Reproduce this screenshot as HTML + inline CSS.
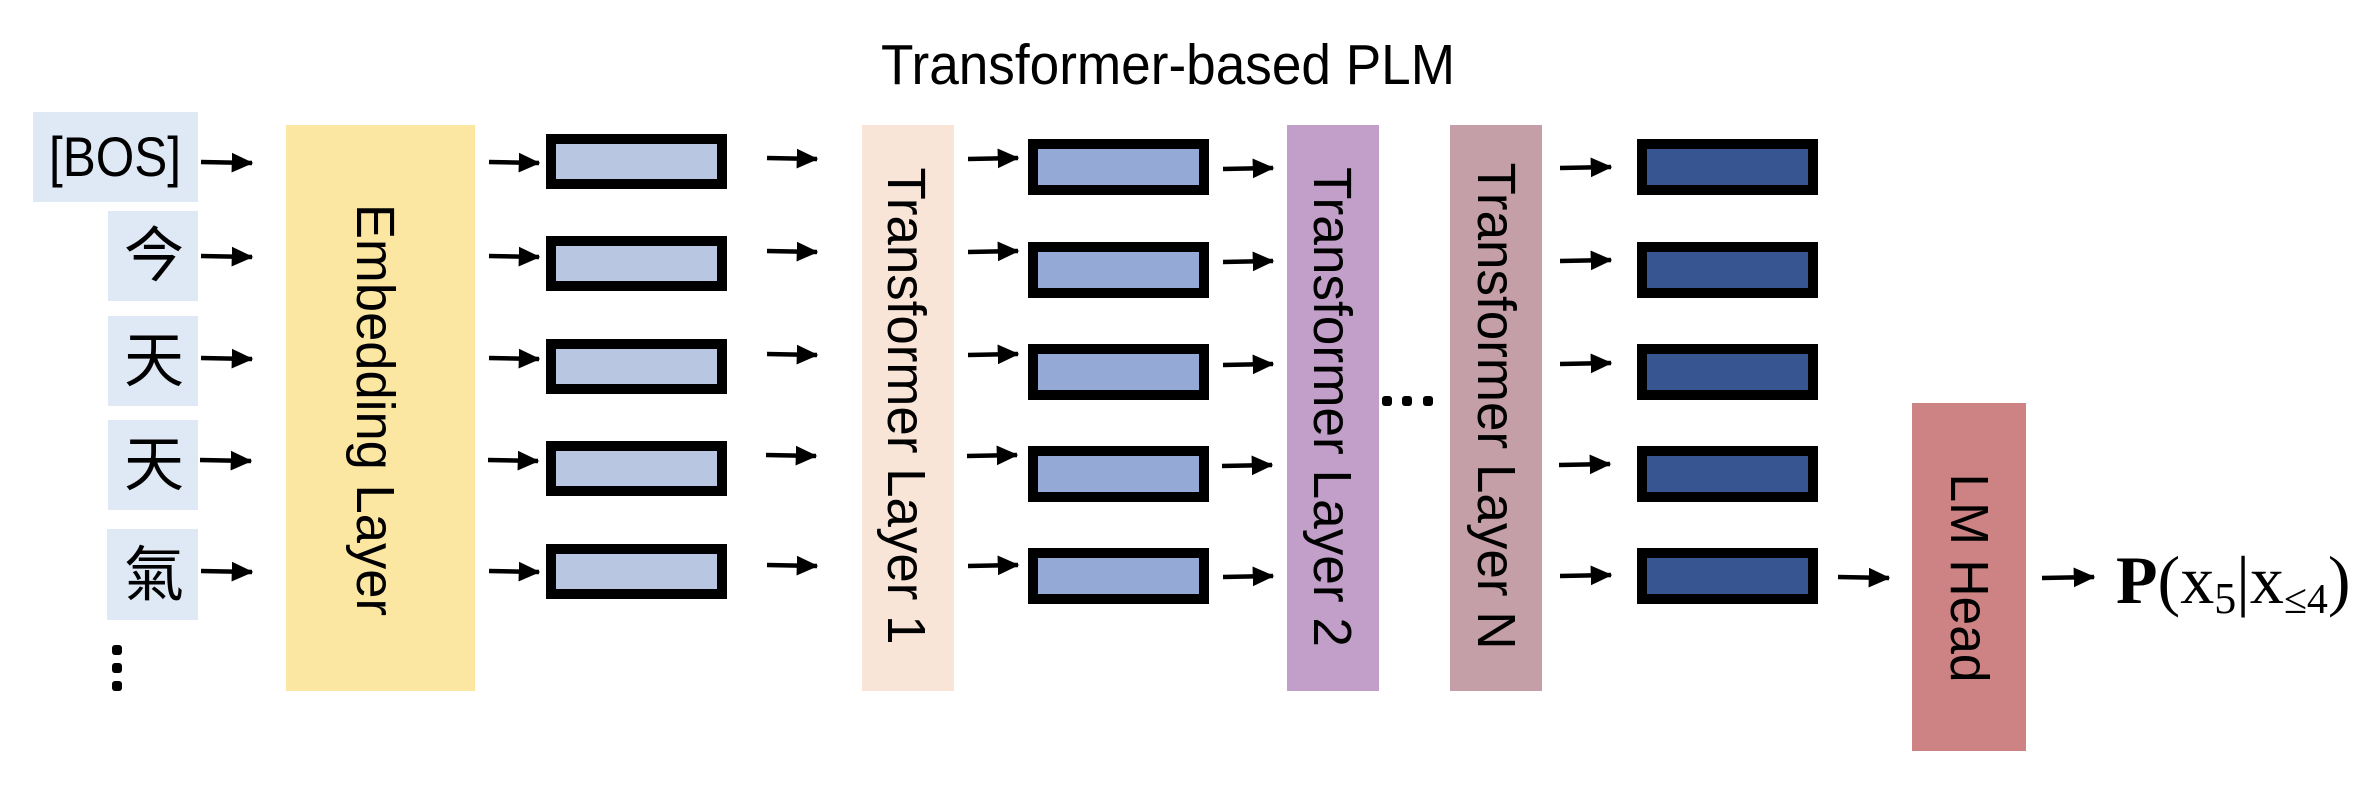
<!DOCTYPE html>
<html><head><meta charset="utf-8"><style>
html,body{margin:0;padding:0;background:#fff;}
svg{display:block;}
text{font-family:"Liberation Sans","Noto Sans CJK TC",sans-serif;fill:#000;}
</style></head><body>
<svg width="2364" height="786" viewBox="0 0 2364 786" xmlns="http://www.w3.org/2000/svg">
<defs>
<marker id="ah" markerWidth="5" markerHeight="5" refX="4.5" refY="2.5" orient="auto" markerUnits="strokeWidth">
<path d="M0,0.3 L4.8,2.5 L0,4.7 Z" fill="#000"/>
</marker>
</defs>
<text x="881" y="84" font-size="57" textLength="574" lengthAdjust="spacingAndGlyphs">Transformer-based PLM</text>

<!-- tokens -->
<rect x="33" y="112" width="165" height="90" fill="#dfe9f5"/>
<rect x="108" y="211" width="90" height="90" fill="#dfe9f5"/>
<rect x="108" y="316" width="90" height="90" fill="#dfe9f5"/>
<rect x="108" y="420" width="90" height="90" fill="#dfe9f5"/>
<rect x="107" y="529" width="91" height="91" fill="#dfe9f5"/>
<text x="49" y="176" font-size="56" textLength="132" lengthAdjust="spacingAndGlyphs">[BOS]</text>
<text x="154" y="256" font-size="60" text-anchor="middle" dominant-baseline="central">今</text>
<text x="154" y="361" font-size="60" text-anchor="middle" dominant-baseline="central">天</text>
<text x="154" y="465" font-size="60" text-anchor="middle" dominant-baseline="central">天</text>
<text x="154" y="575" font-size="60" text-anchor="middle" dominant-baseline="central">氣</text>
<rect x="112" y="645" width="10" height="10" rx="3"/>
<rect x="112" y="663" width="10" height="10" rx="3"/>
<rect x="112" y="681" width="10" height="10" rx="3"/>

<!-- layers -->
<rect x="286" y="125" width="189" height="566" fill="#fbe6a2"/>
<rect x="862" y="125" width="92" height="566" fill="#f8e5d8"/>
<rect x="1287" y="125" width="92" height="566" fill="#c19fc8"/>
<rect x="1450" y="125" width="92" height="566" fill="#c59fa8"/>
<rect x="1912" y="403" width="114" height="348" fill="#cd8383"/>
<text transform="translate(375,410) rotate(90)" font-size="54" text-anchor="middle" dominant-baseline="central" textLength="412" lengthAdjust="spacingAndGlyphs">Embedding Layer</text>
<text transform="translate(906,406) rotate(90)" font-size="54" text-anchor="middle" dominant-baseline="central" textLength="477" lengthAdjust="spacingAndGlyphs">Transformer Layer 1</text>
<text transform="translate(1332,407) rotate(90)" font-size="54" text-anchor="middle" dominant-baseline="central" textLength="480" lengthAdjust="spacingAndGlyphs">Transformer Layer 2</text>
<text transform="translate(1496,406) rotate(90)" font-size="54" text-anchor="middle" dominant-baseline="central" textLength="487" lengthAdjust="spacingAndGlyphs">Transformer Layer N</text>
<text transform="translate(1969,578) rotate(90)" font-size="54" text-anchor="middle" dominant-baseline="central" textLength="209" lengthAdjust="spacingAndGlyphs">LM Head</text>

<rect x="1382" y="396" width="10" height="10" rx="3"/>
<rect x="1402" y="396" width="10" height="10" rx="3"/>
<rect x="1423" y="396" width="10" height="10" rx="3"/>

<!-- vector boxes -->
<g stroke="#000" stroke-width="10">
<g fill="#b8c6e2">
<rect x="551" y="139" width="171" height="45"/>
<rect x="551" y="241" width="171" height="45"/>
<rect x="551" y="344" width="171" height="45"/>
<rect x="551" y="446" width="171" height="45"/>
<rect x="551" y="549" width="171" height="45"/>
</g>
<g fill="#95a9d6">
<rect x="1033" y="144" width="171" height="46"/>
<rect x="1033" y="247" width="171" height="46"/>
<rect x="1033" y="349" width="171" height="46"/>
<rect x="1033" y="451" width="171" height="46"/>
<rect x="1033" y="553" width="171" height="46"/>
</g>
<g fill="#375591">
<rect x="1642" y="144" width="171" height="46"/>
<rect x="1642" y="247" width="171" height="46"/>
<rect x="1642" y="349" width="171" height="46"/>
<rect x="1642" y="451" width="171" height="46"/>
<rect x="1642" y="553" width="171" height="46"/>
</g>
</g>

<!-- arrows -->
<g stroke="#000" stroke-width="4.5" marker-end="url(#ah)">
<line x1="201" y1="162" x2="252" y2="163"/>
<line x1="201" y1="256" x2="252" y2="257"/>
<line x1="201" y1="358" x2="252" y2="359"/>
<line x1="200" y1="460" x2="251" y2="461"/>
<line x1="201" y1="571" x2="252" y2="572"/>

<line x1="489" y1="162" x2="539" y2="163"/>
<line x1="489" y1="256" x2="539" y2="257"/>
<line x1="489" y1="358" x2="539" y2="359"/>
<line x1="488" y1="460" x2="538" y2="461"/>
<line x1="489" y1="571" x2="539" y2="572"/>

<line x1="767" y1="158" x2="817" y2="159"/>
<line x1="767" y1="251" x2="817" y2="252"/>
<line x1="767" y1="354" x2="817" y2="355"/>
<line x1="766" y1="455" x2="816" y2="456"/>
<line x1="767" y1="565" x2="817" y2="566"/>

<line x1="968" y1="159" x2="1018" y2="158"/>
<line x1="968" y1="252" x2="1018" y2="251"/>
<line x1="968" y1="355" x2="1018" y2="354"/>
<line x1="967" y1="456" x2="1017" y2="455"/>
<line x1="968" y1="566" x2="1018" y2="565"/>

<line x1="1223" y1="169" x2="1273" y2="168"/>
<line x1="1223" y1="262" x2="1273" y2="261"/>
<line x1="1223" y1="365" x2="1273" y2="364"/>
<line x1="1222" y1="466" x2="1272" y2="465"/>
<line x1="1223" y1="577" x2="1273" y2="576"/>

<line x1="1560" y1="168" x2="1611" y2="167"/>
<line x1="1560" y1="261" x2="1611" y2="260"/>
<line x1="1560" y1="364" x2="1611" y2="363"/>
<line x1="1559" y1="465" x2="1610" y2="464"/>
<line x1="1560" y1="576" x2="1611" y2="575"/>

<line x1="1838" y1="577" x2="1889" y2="578"/>
<line x1="2042" y1="578" x2="2094" y2="577"/>
</g>

<text x="2116" y="603" font-size="68" style="font-family:'Liberation Serif',serif"><tspan font-weight="bold">P</tspan>(x<tspan font-size="44" dy="10">5</tspan><tspan dy="-10">|x</tspan><tspan font-size="42" dy="10">≤4</tspan><tspan dy="-10">)</tspan></text>
</svg>
</body></html>
